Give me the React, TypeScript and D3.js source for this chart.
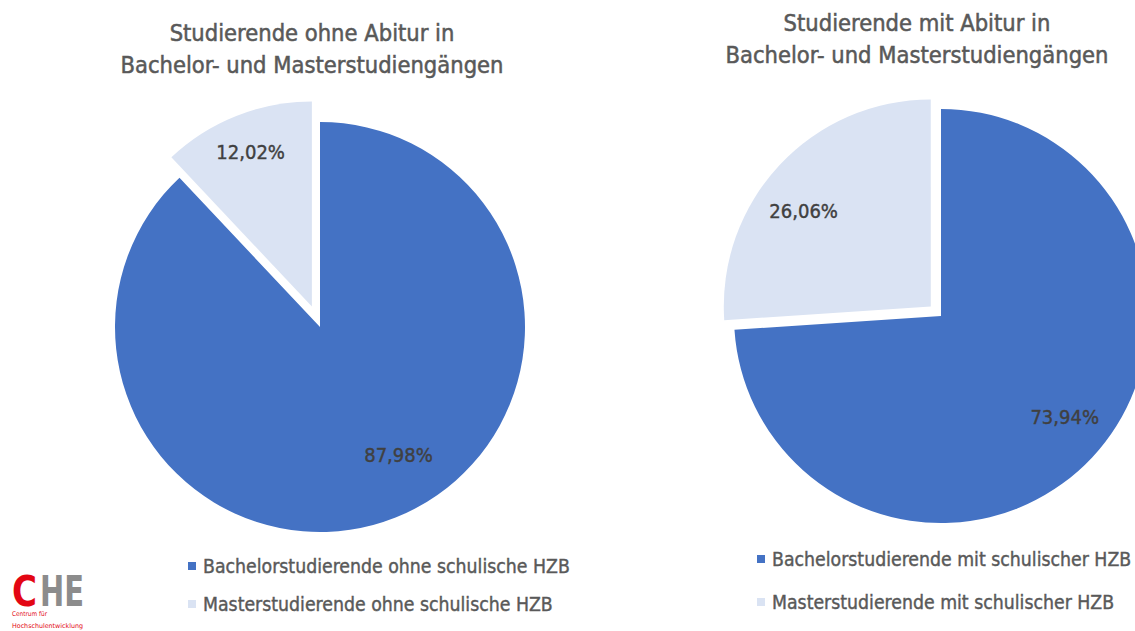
import React from 'react';
import * as d3 from 'd3';

const leftTitle = ['Studierende ohne Abitur in', 'Bachelor- und Masterstudiengängen'];
const rightTitle = ['Studierende mit Abitur in', 'Bachelor- und Masterstudiengängen'];
const leftCategories = ['Bachelorstudierende ohne schulische HZB', 'Masterstudierende ohne schulische HZB'];
const rightCategories = ['Bachelorstudierende mit schulischer HZB', 'Masterstudierende mit schulischer HZB'];
const leftValues = [87.98, 12.02];
const rightValues = [73.94, 26.06];
const colors = ['#4472c4', '#dae3f3'];

const FONT = "'DejaVu Sans Condensed', 'DejaVu Sans', sans-serif";

interface PieProps {
    cx: number;
    cy: number;
    r: number;
    explode: number;
    values: number[];
    // label placement: [radius factor, angle shift in degrees] per slice
    labelPos: number[][];
}

function Pie(props: PieProps) {
    const pie = d3
        .pie<number>()
        .sort(null)
        .value((d) => d);
    const arc = d3
        .arc<d3.PieArcDatum<number>>()
        .innerRadius(0)
        .outerRadius(props.r);
    const slices = pie(props.values);
    return (
        <g transform={'translate(' + props.cx + ',' + props.cy + ')'}>
            {slices.map((d, i) => {
                const mid = (d.startAngle + d.endAngle) / 2;
                const off = i === 1 ? props.explode : 0;
                const dx = Math.sin(mid) * off;
                const dy = -Math.cos(mid) * off;
                const lr = props.r * props.labelPos[i][0];
                const la = mid + (props.labelPos[i][1] * Math.PI) / 180;
                return (
                    <g key={i} transform={'translate(' + dx + ',' + dy + ')'}>
                        <path d={arc(d) || ''} fill={colors[i]}/>
                        <text
                            x={Math.sin(la) * lr}
                            y={-Math.cos(la) * lr}
                            dy="0.36em"
                            textAnchor="middle"
                            fontFamily={FONT}
                            fontSize={20}
                            fill="#404040"
                            stroke="#404040"
                            strokeWidth={0.4}>
                            {d.data.toFixed(2).replace('.', ',') + '%'}
                        </text>
                    </g>
                );
            })}
        </g>
    );
}

function Title(props: { x: number; y: number; lines: string[] }) {
    return (
        <text
            textAnchor="middle"
            fontFamily={FONT}
            fontSize={23.5}
            fill="#595959"
            stroke="#595959"
            strokeWidth={0.5}>
            {props.lines.map((l, i) => (
                <tspan key={i} x={props.x} y={props.y + i * 31.5}>{l}</tspan>
            ))}
        </text>
    );
}

function Legend(props: { x: number; y: number; gap: number; items: string[] }) {
    return (
        <g>
            {props.items.map((t, i) => (
                <g key={i} transform={'translate(' + props.x + ',' + (props.y + i * props.gap) + ')'}>
                    <rect x={0} y={-4} width={8} height={8} fill={colors[i]}/>
                    <text
                        x={15}
                        y={0}
                        dy="0.36em"
                        fontFamily={FONT}
                        fontSize={19.3}
                        fill="#595959"
                        stroke="#595959"
                        strokeWidth={0.4}>
                        {t}
                    </text>
                </g>
            ))}
        </g>
    );
}

export default function App() {
    return (
        <svg width={1135} height={631} style={{ position: 'absolute', left: 0, top: 0, background: '#ffffff' }}>
            <rect width={1135} height={631} fill="#ffffff"/>
            <Title x={312} y={41} lines={leftTitle}/>
            <Title x={917} y={31} lines={rightTitle}/>
            <Pie cx={320} cy={327} r={205} explode={22} values={leftValues} labelPos={[[0.73, -10], [0.81, 0]]}/>
            <Pie cx={941} cy={316} r={207} explode={14} values={rightValues} labelPos={[[0.77, -4], [0.77, -6]]}/>
            <Legend x={188} y={566} gap={38} items={leftCategories}/>
            <Legend x={757} y={559} gap={43} items={rightCategories}/>
            <g fontFamily={FONT} fontWeight="bold">
                <text x={12} y={606} fontSize={43} fill="#e30613" textLength={25} lengthAdjust="spacingAndGlyphs">C</text>
                <text x={40} y={606} fontSize={43} fill="#8c8c8c" textLength={44} lengthAdjust="spacingAndGlyphs">HE</text>
            </g>
            <g fontFamily={FONT}>
                <text x={12} y={616} fontSize={6.5} fill="#e30613" textLength={35} lengthAdjust="spacingAndGlyphs">Centrum für</text>
                <text x={12} y={628} fontSize={6.5} fill="#e30613" textLength={71} lengthAdjust="spacingAndGlyphs">Hochschulentwicklung</text>
            </g>
        </svg>
    );
}
